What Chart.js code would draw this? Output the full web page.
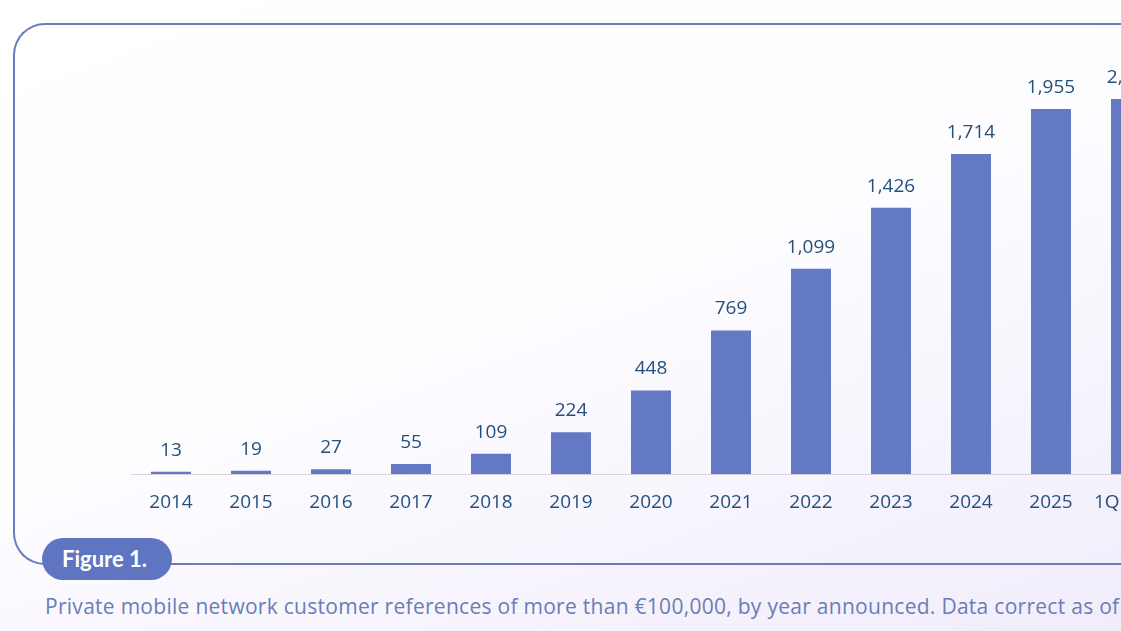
<!DOCTYPE html>
<html>
<head>
<meta charset="utf-8">
<script src="https://cdn.jsdelivr.net/npm/chart.js@4"></script>
<style>
    html, body {
        margin: 0;
        padding: 0;
        width: 1121px;
        height: 631px;
        overflow: hidden;
        background: linear-gradient(160deg, #ffffff 0%, #fdfcff 50%, #f1ecfb 100%);
        font-family: 'Lato', sans-serif;
    }
    #frame {
        position: absolute;
        left: 13px;
        top: 23px;
        width: 1250px;
        height: 538px;
        border: 2px solid #6a7bbf;
        border-right: none;
        border-radius: 32px 0 0 32px;
        box-sizing: content-box;
    }
    #chartbox {
        position: absolute;
        left: 0;
        top: 0;
        width: 1300px;
        height: 540px;
    }
    #pill {
        position: absolute;
        left: 42px;
        top: 538px;
        width: 130px;
        height: 42px;
        border-radius: 21px;
        background: #5f75c1;
        color: #ffffff;
        font-weight: bold;
        font-size: 22px;
        line-height: 42px;
        padding-left: 20px;
        box-sizing: border-box;
    }
    #caption {
        position: absolute;
        left: 45px;
        top: 592px;
        white-space: nowrap;
        color: #6a7db5;
        font-family: 'Open Sans', sans-serif;
        font-size: 21px;
        letter-spacing: 0.28px;
    }
</style>
</head>
<body>
<div id="frame"></div>
<div id="chartbox"><canvas id="chart"></canvas></div>
<div id="pill">Figure 1.</div>
<div id="caption">Private mobile network customer references of more than €100,000, by year announced. Data correct as of 1Q 2026.</div>
<script>
var years = ['2014', '2015', '2016', '2017', '2018', '2019', '2020', '2021', '2022', '2023', '2024', '2025', '1Q 2026'];
var references = [13, 19, 27, 55, 109, 224, 448, 769, 1099, 1426, 1714, 1955, 2008];

var barColor = '#6379c4';
var labelColor = '#24507d';

var valueLabels = {
    id: 'valueLabels',
    afterDatasetsDraw: function(chart) {
        var ctx = chart.ctx;
        var meta = chart.getDatasetMeta(0);
        ctx.save();
        ctx.font = '19px "Open Sans", sans-serif';
        ctx.fillStyle = labelColor;
        ctx.textAlign = 'center';
        ctx.textBaseline = 'bottom';
        meta.data.forEach(function(bar, i) {
            var text = new Intl.NumberFormat('en-US').format(references[i]);
            ctx.fillText(text, bar.x, bar.y - 12);
        });
        ctx.restore();
    }
};

document.addEventListener("DOMContentLoaded", function() {
    var ctx = document.getElementById('chart').getContext('2d');

    var chart = new Chart(ctx, {
        type: 'bar',
        data: {
            labels: years,
            datasets: [{
                data: references,
                backgroundColor: barColor,
                barPercentage: 0.5,
                categoryPercentage: 1.0,
            }],
        },
        options: {
            responsive: true,
            maintainAspectRatio: false,
            animation: false,
            layout: {
                padding: { left: 131, right: 129, top: 36, bottom: 17 }
            },
            scales: {
                x: {
                    grid: { display: false },
                    border: { display: true, color: '#d6d6d6', width: 1 },
                    ticks: {
                        color: labelColor,
                        font: { family: 'Open Sans', size: 19 },
                        padding: 9,
                        maxRotation: 0,
                    },
                },
                y: {
                    display: false,
                    min: 0,
                    max: 2345,
                }
            },
            plugins: {
                legend: { display: false },
                tooltip: { enabled: false }
            }
        },
        plugins: [valueLabels]
    });
});
</script>
</body>
</html>
